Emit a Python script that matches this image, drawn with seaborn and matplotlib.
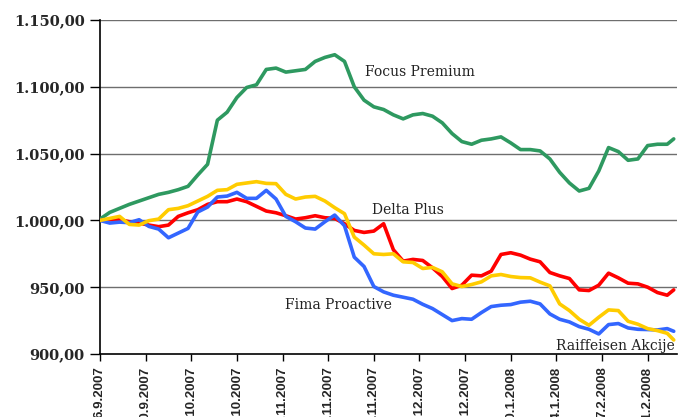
import pandas as pd
import seaborn as sns
import matplotlib.pyplot as plt

# days after 6.9.2007 at which the values were read
days = [0, 3, 6, 9, 12, 15, 18, 21, 24, 27, 30, 33, 36, 39, 42, 45, 48, 51, 54, 57,
        60, 63, 66, 69, 72, 75, 78, 81, 84, 87, 90, 93, 96, 99, 102, 105, 108, 111, 114, 117,
        120, 123, 126, 129, 132, 135, 138, 141, 144, 147, 150, 153, 156, 159, 162, 165, 168, 171, 174, 176]

focus_premium = [1001, 1006, 1009, 1012, 1014.5, 1017, 1019.5, 1021, 1023, 1025.5,
                 1034, 1042, 1075, 1081, 1092, 1099.5, 1101.5, 1113, 1114, 1111,
                 1112, 1113, 1119, 1122, 1124, 1119, 1100, 1090, 1085, 1083,
                 1079, 1076, 1079, 1080, 1078, 1073, 1065, 1059, 1057, 1060,
                 1061, 1062.5, 1058, 1053, 1053, 1052, 1046, 1036, 1028, 1022,
                 1024, 1037, 1054.5, 1051.5, 1045, 1046, 1056, 1057, 1057, 1061]

delta_plus = [1000, 1000.5, 1000.5, 999, 998, 996.5, 995.3, 996.5, 1003, 1005.7,
              1008, 1012, 1014, 1014, 1016, 1014, 1010.5, 1007, 1005.7, 1003.5,
              1001, 1002, 1003.5, 1002, 1001.5, 997.5, 992.5, 991, 992, 997.5,
              978, 969.5, 970.8, 970, 964.5, 958, 949, 951.5, 959, 958.5,
              962, 974.5, 975.8, 974, 971, 969, 961, 958.5, 956.5, 948,
              947.5, 951.5, 960.5, 957, 953, 952.5, 950, 946, 944, 948]

fima_proactive = [1000, 998, 998.7, 998.3, 1000.5, 995.5, 993.5, 987, 990.5, 994,
                  1006.3, 1010, 1017.5, 1018.2, 1021, 1016.5, 1016.5, 1022.5, 1016, 1003,
                  999, 994.3, 993.5, 999, 1004, 996, 972.5, 965.5, 950.5, 946.5,
                  944, 942.5, 941, 937.2, 934, 929.5, 925, 926.5, 926, 931,
                  935.5, 936.5, 937, 938.8, 939.5, 937.5, 930, 926, 924, 920.5,
                  918.5, 915, 922, 922.8, 919.5, 918.5, 918.3, 918, 919, 917]

raiffeisen_akcije = [1000, 1001.5, 1003, 997, 996.5, 999.8, 1001, 1008, 1009, 1011,
                     1014.5, 1018, 1022.5, 1023, 1027, 1028, 1029, 1027.7, 1027.5, 1019.5,
                     1016, 1017.5, 1018, 1014.5, 1009.5, 1005, 987.5, 981.5, 975, 974.5,
                     975, 969, 968.5, 964, 964.8, 961.5, 952.5, 950.5, 952, 954,
                     958.5, 959.5, 958, 957.2, 957, 953.8, 951, 937.5, 932.5, 926,
                     921.5, 927.5, 933, 932.5, 924.5, 922.3, 919, 917.5, 915.5, 910.5]

fund_names = ['Focus Premium', 'Delta Plus', 'Fima Proactive', 'Raiffeisen Akcije']
x_tick_labels = ['6.9.2007', '20.9.2007', '4.10.2007', '18.10.2007', '1.11.2007', '15.11.2007',
                 '29.11.2007', '13.12.2007', '27.12.2007', '10.1.2008', '24.1.2008',
                 '7.2.2008', '21.2.2008']
y_ticks = [900, 950, 1000, 1050, 1100, 1150]
y_tick_labels = ['900,00', '950,00', '1.000,00', '1.050,00', '1.100,00', '1.150,00']

colors = {'Focus Premium': '#2e9960', 'Delta Plus': '#ff0000',
          'Fima Proactive': '#3366ff', 'Raiffeisen Akcije': '#ffcc00'}

start = pd.Timestamp('2007-09-06')
dates = [start + pd.Timedelta(days=d) for d in days]
df = pd.DataFrame({'date': dates, 'Focus Premium': focus_premium, 'Delta Plus': delta_plus,
                   'Fima Proactive': fima_proactive, 'Raiffeisen Akcije': raiffeisen_akcije})
long_df = df.melt(id_vars='date', var_name='fund', value_name='value')

sns.set_style('white')
fig = plt.figure(figsize=(6.83, 4.17), dpi=100)
ax = fig.add_axes([100 / 683, 63 / 417, 577 / 683, 334 / 417])

sns.lineplot(data=long_df, x='date', y='value', hue='fund', hue_order=fund_names,
             palette=colors, linewidth=2.6, legend=False, ax=ax, zorder=3)

ax.set_xlim(start, pd.Timestamp('2008-03-01'))
ax.set_ylim(900, 1150)

for yv in y_ticks[1:]:
    ax.axhline(yv, color='#6e6e6e', lw=1.0, zorder=1)

ax.set_yticks(y_ticks)
ax.set_yticklabels(y_tick_labels, fontfamily='DejaVu Serif', fontweight='bold', fontsize=10.5)
xt = pd.to_datetime(x_tick_labels, format='%d.%m.%Y')
ax.set_xticks(xt)
ax.set_xticklabels(x_tick_labels, rotation=90, fontfamily='Liberation Sans',
                   fontweight='bold', fontsize=9.5, va='top', ha='center')
ax.tick_params(axis='y', direction='out', length=7, width=1, color='black', pad=4, left=True)
ax.tick_params(axis='x', direction='out', length=5, width=1, color='black', pad=4, bottom=True)

ax.set_xlabel('')
ax.set_ylabel('')
for side in ['top', 'right']:
    ax.spines[side].set_visible(False)
for side in ['left', 'bottom']:
    ax.spines[side].set_color('black')
    ax.spines[side].set_linewidth(1.2)

label_style = dict(fontfamily='DejaVu Serif', fontsize=10, color='#222222', va='center')
ax.text(start + pd.Timedelta(days=81.2), 1111, 'Focus Premium', **label_style)
ax.text(start + pd.Timedelta(days=83.3), 1007.5, 'Delta Plus', **label_style)
ax.text(start + pd.Timedelta(days=56.7), 937, 'Fima Proactive', **label_style)
ax.text(start + pd.Timedelta(days=176.2), 906.3, 'Raiffeisen Akcije', ha='right',
        **{k: v for k, v in label_style.items()})

fig.savefig('out.png', dpi=100)
